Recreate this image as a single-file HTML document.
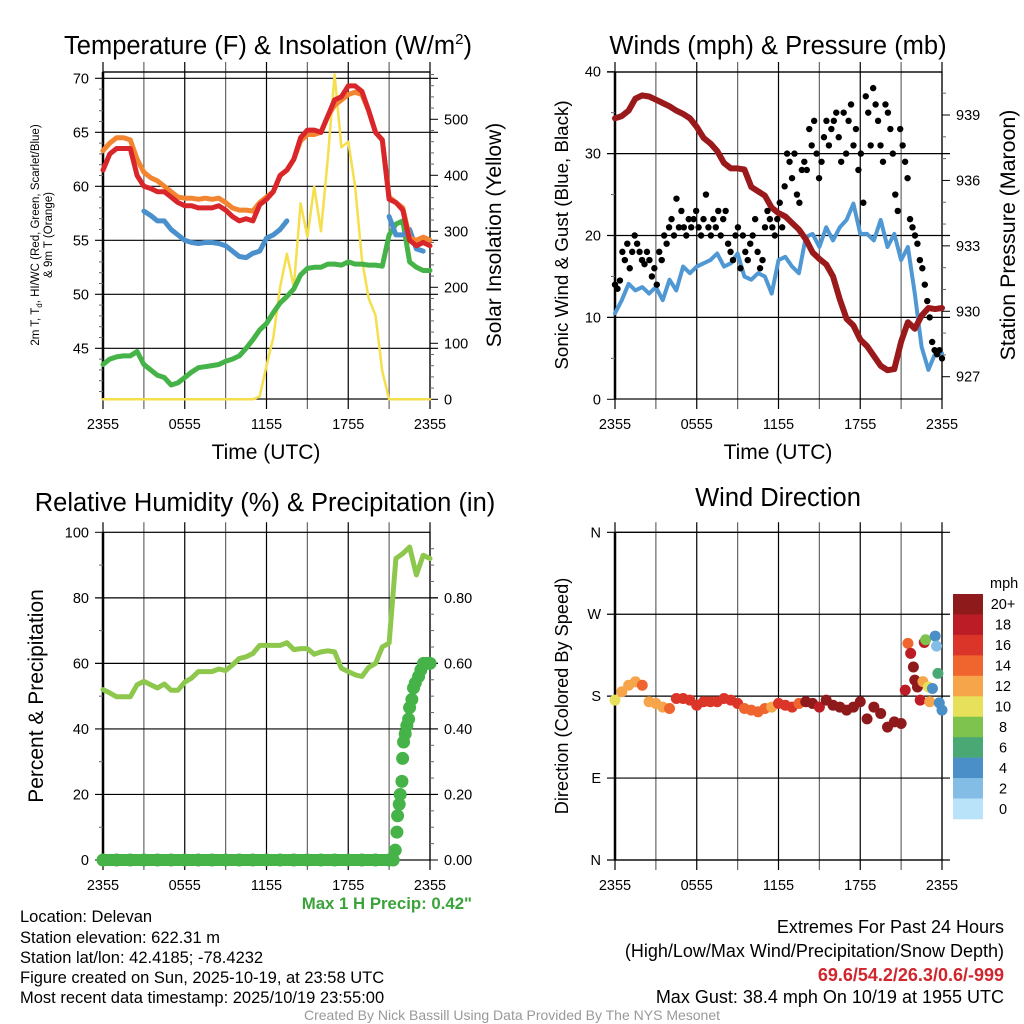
<!DOCTYPE html>
<html><head><meta charset="utf-8">
<style>
html,body{margin:0;padding:0;background:#fff;}
svg{display:block;font-family:"Liberation Sans",Arial,sans-serif;}
</style></head>
<body>
<svg id="chart" width="1024" height="1024" viewBox="0 0 1024 1024" xmlns="http://www.w3.org/2000/svg">
<rect width="1024" height="1024" fill="#fff"/>
<g id="layer"></g>
<text x="268" y="54" font-size="25.5" text-anchor="middle">Temperature (F) &amp; Insolation (W/m<tspan font-size="15" dy="-10">2</tspan><tspan dy="10">)</tspan></text>
<text x="778" y="54" font-size="25.5" text-anchor="middle">Winds (mph) &amp; Pressure (mb)</text>
<text x="265" y="511" font-size="25.5" text-anchor="middle">Relative Humidity (%) &amp; Precipitation (in)</text>
<text x="778" y="506" font-size="25.5" text-anchor="middle">Wind Direction</text>

<text x="266" y="459" font-size="21" text-anchor="middle">Time (UTC)</text>
<text x="778" y="459" font-size="21" text-anchor="middle">Time (UTC)</text>

<text transform="translate(39,235) rotate(-90)" font-size="11.5" text-anchor="middle">2m T, T<tspan font-size="8" dy="3">d</tspan><tspan dy="-3">, HI/WC (Red, Green, Scarlet/Blue)</tspan></text>
<text transform="translate(52,235) rotate(-90)" font-size="11.5" text-anchor="middle">&amp; 9m T (Orange)</text>
<text transform="translate(501,235) rotate(-90)" font-size="21" text-anchor="middle">Solar Insolation (Yellow)</text>
<text transform="translate(568,235) rotate(-90)" font-size="18.8" text-anchor="middle">Sonic Wind &amp; Gust (Blue, Black)</text>
<text transform="translate(1015,235) rotate(-90)" font-size="21.4" text-anchor="middle">Station Pressure (Maroon)</text>
<text transform="translate(43,696) rotate(-90)" font-size="21" text-anchor="middle">Percent &amp; Precipitation</text>
<text transform="translate(568,696) rotate(-90)" font-size="18.2" text-anchor="middle">Direction (Colored By Speed)</text>

<text x="472" y="909" font-size="16.8" font-weight="bold" fill="#3aa33a" text-anchor="end">Max 1 H Precip: 0.42"</text>

<g font-size="16.5">
<text x="20" y="922">Location: Delevan</text>
<text x="20" y="943">Station elevation: 622.31 m</text>
<text x="20" y="963">Station lat/lon: 42.4185; -78.4232</text>
<text x="20" y="983">Figure created on Sun, 2025-10-19, at 23:58 UTC</text>
<text x="20" y="1003">Most recent data timestamp: 2025/10/19 23:55:00</text>
</g>
<g font-size="18" text-anchor="end">
<text x="1004" y="933">Extremes For Past 24 Hours</text>
<text x="1004" y="957">(High/Low/Max Wind/Precipitation/Snow Depth)</text>
<text x="1004" y="981" fill="#d0262e" font-weight="bold">69.6/54.2/26.3/0.6/-999</text>
<text x="1004" y="1003">Max Gust: 38.4 mph On 10/19 at 1955 UTC</text>
</g>
<text x="512" y="1020" font-size="14" fill="#999" text-anchor="middle">Created By Nick Bassill Using Data Provided By The NYS Mesonet</text>
</svg>
<script>
// ---- data (hours after 2355 UTC, half-hour steps) ----
const hours = [0,0.5,1,1.5,2,2.5,3,3.5,4,4.5,5,5.5,6,6.5,7,7.5,8,8.5,9,9.5,10,10.5,11,11.5,12,12.5,13,13.5,14,14.5,15,15.5,16,16.5,17,17.5,18,18.5,19,19.5,20,20.5,21,21.5,22,22.5,23,23.5,24];
const xTickLabels = ["2355","0555","1155","1755","2355"];
const temp2m = [61.5,63,63.5,63.5,63.5,61,60,59.8,59.5,59.5,59,58.5,58.2,58.2,58,58,58,58.2,57.8,57.2,56.8,57,56.8,58.3,58.8,59.5,61,61.5,62.5,64.5,65.2,65.2,65,66.5,68,68.3,69.3,69.3,68.8,67,65,64.3,58.8,58.5,57.8,55,54.5,54.8,54.5];
const temp9m = [63.3,64,64.5,64.5,64.3,62.5,61.3,60.8,60.5,60,59.5,59,58.9,58.9,58.8,58.9,58.8,58.9,58.5,58,57.8,57.8,57.7,58.5,59,59.5,61,61.5,62.5,64.2,64.8,64.8,65,66.5,67.5,68,68.5,68.7,68.5,67,65,64.3,59,58.5,58,55.2,55,55.3,55];
const heatIndex = [null,null,null,null,null,null,57.7,57.3,56.8,56.8,56,55.5,55,54.8,54.7,54.8,54.8,54.7,54.5,54,53.5,53.4,53.8,54,55.2,55.5,56,56.8,null,null,null,null,null,null,null,null,null,null,null,null,null,null,57.2,55.5,55.5,56,54.2,54,null];
const dewpoint = [43.5,44,44.2,44.3,44.3,44.7,43.5,43,42.5,42.3,41.6,41.8,42.3,42.8,43.2,43.3,43.4,43.5,43.8,44,44.3,45,45.8,46.7,47.3,48.3,49.2,49.8,50.5,51.8,52.4,52.5,52.5,52.8,52.8,52.7,53,52.8,52.8,52.7,52.7,52.6,55.5,56.5,56.8,53,52.5,52.2,52.2];
const insolation = [0,0,0,0,0,0,0,0,0,0,0,0,0,0,0,0,0,0,0,0,0,0,0,5,60,110,200,260,200,350,290,380,300,430,580,450,460,380,250,180,150,50,0,0,0,0,0,0,0];
const pressure = [938.85,938.95,939.2,939.75,939.9,939.85,939.7,939.55,939.4,939.2,939.05,938.85,938.45,937.95,937.7,937.35,936.8,936.55,936.55,936.5,935.7,935.5,935.3,934.75,934.5,934.35,934.05,933.75,933.3,932.7,932.4,932.15,931.6,930.55,929.65,929.35,928.7,928.4,927.95,927.5,927.3,927.35,928.6,929.5,929.2,929.8,930.15,930.1,930.15];
const sonicWind = [10.5,12.1,14.1,13.3,13.7,12.9,13.7,12.1,14.6,13.3,16.2,15.4,16.2,16.6,17,17.8,16.2,16.6,17.8,15,14.6,15.4,15,12.9,17,17.4,16.2,15.4,19.8,20.2,18.6,21,19.4,21,21.9,23.9,20.2,20.2,19.4,21.9,18.6,20.2,17,18.6,12.9,6.4,3.6,5.6,5.6];
const gusts = [14,13.5,14.5,18,17,19,16,18,20,19,18,17,16.5,18,17,15,16,14,18,17,20,19,21,22,20,24.5,21,23,21,20,22,21,22,23,21,20,22,25,21,20,22,21,23,20,22,23,19,18,17,20,21,16,20,18,17,19,20,22,18,16,17,21,23,22,21,20,22,24,21,26,30,29,27,30,25,24,28,29,28,33,31,34,30,27,29,32,34,31,33,34,35,32,29,35,30,34,36,31,33,28,30,24,37,35,31,38,36,34,31,29,36,35,33,30,25,23,33,31,29,27,22,21,20,19,17,16,14,12,10,7,6,5.5,6,5];
const rh = [52,51,49.8,49.8,49.8,53.5,54.5,53.5,52.5,53.7,51.8,51.8,54.3,55.5,57.5,57.5,57.5,58.3,57.8,59.5,61.5,62,63,65.5,65.5,65.5,65.5,66.3,64.2,64.5,64.5,62.8,63.5,63.8,63.5,58.5,57.5,56.5,56,58.8,60,65,66.2,92,93.5,95.5,87,93,92];
const precipHours = [0,1,2,3,4,5,6,7,8,9,10,11,12,13,14,15,16,17,18,19,20,21,21.3,21.45,21.57,21.62,21.74,21.81,21.94,21.99,22.06,22.18,22.3,22.43,22.5,22.67,22.79,22.92,23.16,23.33,23.53,23.77,24];
const precip = [0,0,0,0,0,0,0,0,0,0,0,0,0,0,0,0,0,0,0,0,0,0,0,0.03,0.085,0.135,0.17,0.2,0.24,0.31,0.36,0.385,0.41,0.43,0.465,0.49,0.525,0.54,0.56,0.58,0.60,0.60,0.60];
const dirHours = [0,0.5,1,1.5,2,2.5,3,3.5,4,4.5,5,5.5,6,6.5,7,7.5,8,8.5,9,9.5,10,10.5,11,11.5,12,12.5,13,13.5,14,14.5,15,15.5,16,16.5,17,17.5,18,18.5,19,19.5,20,20.5,21,21.3,21.5,21.7,21.9,22,22.2,22.4,22.6,22.7,22.8,23,23.1,23.3,23.5,23.6,23.7,23.8,24];
const dirDeg = [175.6,184.8,192,195.8,192,173.8,172,168,166.4,177.4,177.4,175.6,170,173.8,173.8,173.8,177.4,175.6,172,166.4,164.6,162.8,166.4,168,172,170,168,172,173.8,172,168,175.6,170,168,164.6,168,173.8,155,168,161,146,151.7,150,186.6,238,227,212,197.6,190,175.6,196,239,242,190,173.8,188.4,246,235,205,172.6,164.6];
const dirSpeed = [10,12,12.5,13,14,12.5,12,13.5,14,16,16,17,17,16,16,17,16,17,17,15,14,14,15,12,16,17,16,15,20,20,19,21,20,21,22,23,21,21,20,22,21,21,20,19,14,18,21,20,21,18,12,18,8,10,12,4,4,2,6,5,4];
const speedBinLabels = ["20+","18","16","14","12","10","8","6","4","2","0"];
const speedBinColors = ["#8f1a1c","#bb1c25","#db3428","#f0652d","#f7a54a","#e6e05a","#7ec34d","#4aa874","#4a8fc8","#83bde5","#b8e3f8"];

const NS="http://www.w3.org/2000/svg";
const layer=document.getElementById('layer');
function mk(tag,attrs,parent){const e=document.createElementNS(NS,tag);for(const k in attrs)e.setAttribute(k,attrs[k]);(parent||layer).appendChild(e);return e;}
function lin(d0,d1,r0,r1){return v=>r0+(v-d0)*(r1-r0)/(d1-d0);}

function panelFrame(name,x0,x1,yT,yB){
  const g=mk('g',{});
  
  
  const xs=lin(0,24,x0,x1);
  for(let h=0;h<=24;h+=3){
    const x=xs(h);
    const l=mk('line',{x1:x,x2:x,y1:yT-10,y2:yB+10,stroke:(h%6===0)?'#000':'#666','stroke-width':1.2},g);
    
    
  }
  for(let i=0;i<xTickLabels.length;i++){
    const t=mk('text',{x:xs(i*6),y:yB+30,'font-size':14.5,'text-anchor':'middle'},g);
    
    
    t.textContent=xTickLabels[i];
  }
  mk('rect',{x:x0,y:yT,width:x1-x0,height:yB-yT,fill:'none',stroke:'#000','stroke-width':1.2},g);
  mk('line',{x1:x0,x2:x0,y1:yT,y2:yB,stroke:'#000','stroke-width':2.5},g);
  return xs;
}
function yAxis(g,x0,x1,ys,ticks,labels,side,minor,grid){
  ticks.forEach((v,i)=>{
    const y=ys(v);
    if(grid){const l=mk('line',{x1:x0-8,x2:x1+8,y1:y,y2:y,stroke:'#000','stroke-width':1.2},g);
      
      }
    else mk('line',side==='left'?{x1:x0-8,x2:x0,y1:y,y2:y,stroke:'#000'}:{x1:x1,x2:x1+8,y1:y,y2:y,stroke:'#000'},g);
    const t=mk('text',{x:side==='left'?x0-14:x1+14,y:y+5,'font-size':14.5,'text-anchor':side==='left'?'end':'start'},g);
    
    
    t.textContent=labels[i];
  });
  (minor||[]).forEach(v=>{const y=ys(v);
    mk('line',side==='left'?{x1:x0-4,x2:x0,y1:y,y2:y,stroke:'#666'}:{x1:x1,x2:x1+4,y1:y,y2:y,stroke:'#666'},g);});
}
function pathFrom(xs,ys,xa,ya){let d='',pen=false;
  for(let i=0;i<xa.length;i++){if(ya[i]===null||ya[i]===undefined){pen=false;continue;}
    d+=(pen?'L':'M')+xs(xa[i]).toFixed(1)+','+ys(ya[i]).toFixed(1);pen=true;}
  return d;}
function series(name,xs,ys,xa,ya,color,w){
  const p=mk('path',{d:pathFrom(xs,ys,xa,ya),fill:'none',stroke:color,'stroke-width':w,'stroke-linejoin':'round','stroke-linecap':'round'});
  
  
  return p;}

// ---- Panel 1 ----
(function(){
  const x0=103,x1=430,yT=72,yB=399;
  const xs=panelFrame('temp',x0,x1,yT,yB);
  const g=layer.lastChild;
  const ysL=lin(70,45,78.3,348.3);
  const ysR=lin(0,500,399.3,119.3);
  mk('line',{x1:x0,x2:x1,y1:yT,y2:yT,stroke:'#000','stroke-width':1.2},g);
  yAxis(g,x0,x1,ysL,[45,50,55,60,65,70],["45","50","55","60","65","70"],'left',[41,42,43,44,46,47,48,49,51,52,53,54,56,57,58,59,61,62,63,64,66,67,68,69],true);
  yAxis(g,x0,x1,ysR,[0,100,200,300,400,500],["0","100","200","300","400","500"],'right',[20,40,60,80,120,140,160,180,220,240,260,280,320,340,360,380,420,440,460,480,520,540,560,580],false);
  series('insolation-line',xs,ysR,hours,insolation,'#f5df4d',2.5);
  series('dewpoint-line',xs,ysL,hours,dewpoint,'#45b347',5);
  series('heat-index-line',xs,ysL,hours,heatIndex,'#4a90cc',5);
  series('temp-9m-line',xs,ysL,hours,temp9m,'#f48530',5);
  series('temp-2m-line',xs,ysL,hours,temp2m,'#d8262b',5);
})();

// ---- Panel 2 ----
(function(){
  const x0=615,x1=942,yT=72,yB=399;
  const xs=panelFrame('wind',x0,x1,yT,yB);
  const g=layer.lastChild;
  const ysL=lin(0,40,399.3,71.7);
  const ysR=lin(927,939,376.7,115);
  mk('line',{x1:x0-8,x2:x1,y1:yT,y2:yT,stroke:'#000','stroke-width':1.2},g);
  yAxis(g,x0,x1,ysL,[10,20,30],["10","20","30"],'left',[5,15,25,35],true);
  yAxis(g,x0,x1,ysL,[0,40],["0","40"],'left',[],false);
  yAxis(g,x0,x1,ysR,[927,930,933,936,939],["927","930","933","936","939"],'right',[928,929,931,932,934,935,937,938,940],false);
  series('sonic-wind-line',xs,ysL,hours,sonicWind,'#4f98d4',4);
  series('pressure-line',xs,ysR,hours,pressure,'#9a1a1c',6);
  const gg=mk('g',{});
  
  
  gusts.forEach((v,i)=>{
    const c=mk('circle',{cx:xs(i*24/(gusts.length-1)),cy:ysL(v),r:3.2,fill:'#000'},gg);
    
    
  });
})();

// ---- Panel 3 ----
(function(){
  const x0=103,x1=430,yT=532.3,yB=860;
  const xs=panelFrame('rh',x0,x1,yT,yB);
  const g=layer.lastChild;
  const ysL=lin(0,100,860,532.3);
  const ysR=lin(0,1,860,532.3);
  yAxis(g,x0,x1,ysL,[20,40,60,80],["20","40","60","80"],'left',[10,30,50,70,90],true);
  yAxis(g,x0,x1,ysL,[0,100],["0","100"],'left',[],false);
  yAxis(g,x0,x1,ysR,[0,0.2,0.4,0.6,0.8],["0.00","0.20","0.40","0.60","0.80"],'right',[0.05,0.1,0.15,0.25,0.3,0.35,0.45,0.5,0.55,0.65,0.7,0.75,0.85,0.9,0.95],false);
  series('rh-line',xs,ysL,hours,rh,'#8dc84d',5);
  let last=0;for(let i=0;i<precip.length;i++){if(precip[i]===0)last=i;}
  const zh=precipHours.slice(0,last+1), zv=precip.slice(0,last+1);
  series('precip-zero-band',xs,ysR,zh,zv,'#45b347',12);
  const gg=mk('g',{});
  
  
  precip.forEach((v,i)=>{
    const c=mk('circle',{cx:xs(precipHours[i]),cy:ysR(v),r:6.5,fill:'#45b347'},gg);
    
    
  });
})();

// ---- Panel 4 ----
(function(){
  const x0=615,x1=942,yT=532.3,yB=860;
  const xs=panelFrame('direction',x0,x1,yT,yB);
  const g=layer.lastChild;
  const ys=lin(0,360,860,532.3);
  yAxis(g,x0,x1,ys,[0,90,180,270,360],["N","E","S","W","N"],'left',[],true);
  const gg=mk('g',{});
  
  
  function colorFor(s){let idx=10-Math.min(10,Math.floor(s/2));return speedBinColors[idx];}
  dirDeg.forEach((v,i)=>{
    const c=mk('circle',{cx:xs(dirHours[i]),cy:ys(v),r:5.5,fill:colorFor(dirSpeed[i])},gg);
    
    
  });
  const lg=mk('g',{});
  
  
  const t=mk('text',{x:990,y:588,'font-size':14.5},lg);
  t.textContent='mph';
  const h=(819-594)/speedBinColors.length;
  speedBinColors.forEach((c,i)=>{
    const r=mk('rect',{x:953,y:594+i*h,width:30,height:h+0.3,fill:c},lg);
    
    
    const l=mk('text',{x:1003,y:594+i*h+h/2+5,'font-size':14.5,'text-anchor':'middle'},lg);
    
    
    l.textContent=speedBinLabels[i];
  });
})();
</script>
</body></html>
